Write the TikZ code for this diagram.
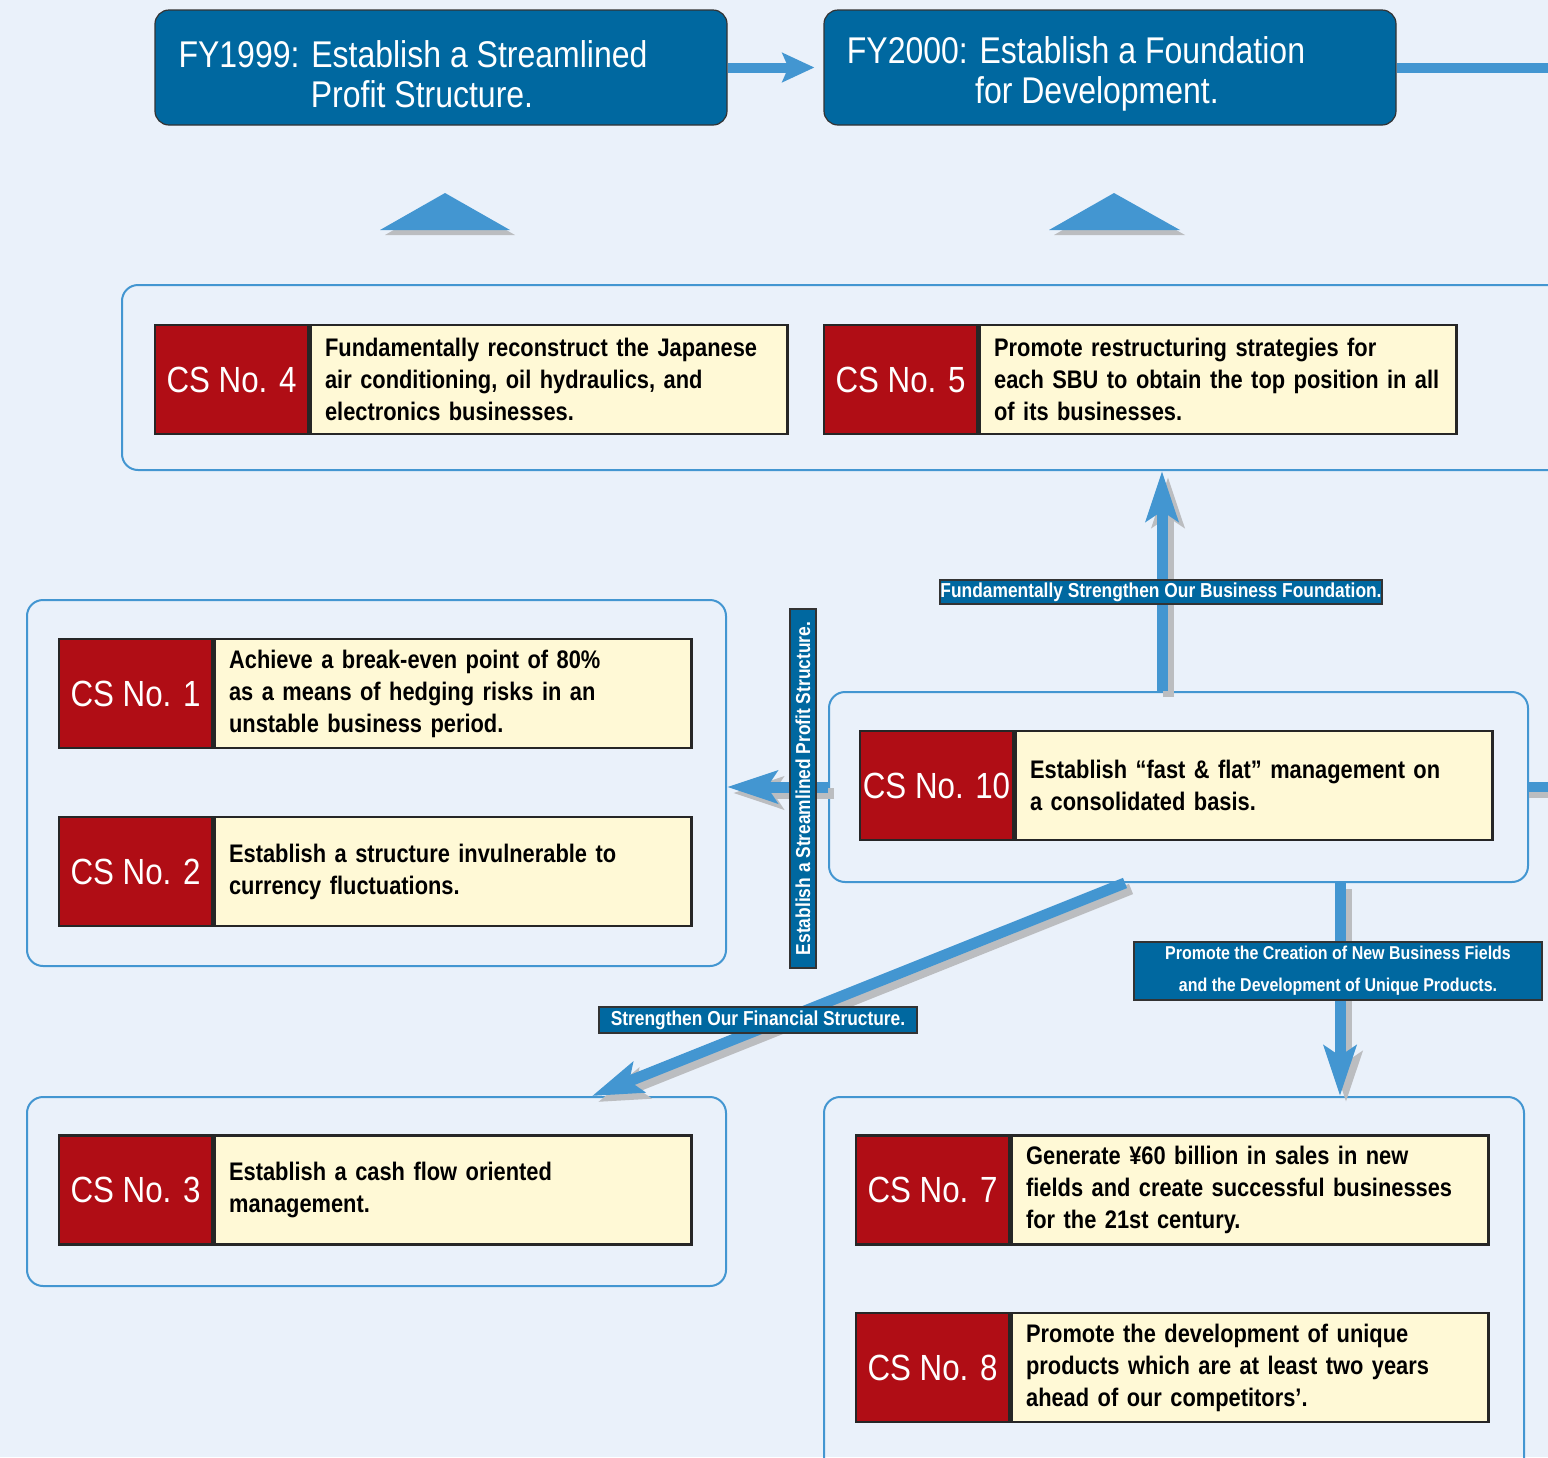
\documentclass[tikz,border=0pt]{standalone}
\usepackage{fontspec}
\setmainfont[FakeStretch=0.86]{Liberation Sans}
\usetikzlibrary{positioning,arrows.meta,calc}

\definecolor{bgblue}{HTML}{EAF1FA}
\definecolor{hdrblue}{HTML}{0068A0}
\definecolor{arrblue}{HTML}{4396D1}
\definecolor{csred}{HTML}{B00D15}
\definecolor{csyellow}{HTML}{FFF9D6}
\definecolor{shadowgray}{HTML}{BBBDC0}

\tikzset{
  hdr/.style={draw=black!80, fill=hdrblue, rounded corners=7pt, line width=0.6pt,
    minimum width=286pt, minimum height=57.5pt, inner sep=0pt},
  hdrtext/.style={text=white, align=center, font=\fontsize{18.6}{20}\selectfont},
  grp/.style={draw=arrblue, rounded corners=8pt, line width=1pt, inner sep=0pt},
  csno/.style={draw=black!85, fill=csred, text=white, line width=1.3pt,
    minimum width=76.5pt, minimum height=54.5pt, inner sep=0pt,
    font=\fontsize{18.2}{20}\selectfont},
  cstext/.style={draw=black!85, fill=csyellow, line width=1.3pt, align=left,
    text width=224pt, inner xsep=7.25pt, inner ysep=0pt, minimum height=54.5pt,
    font=\bfseries\fontsize{12.7}{16}\selectfont},
  lbl/.style={draw=black!80, fill=hdrblue, text=white, line width=0.6pt, inner sep=0pt,
    align=center, font=\bfseries\fontsize{10.1}{16}\selectfont},
  flow/.style={arrblue, line width=5.5pt, -{Stealth[length=25pt,width=16pt,inset=5pt]}},
  flowshadow/.style={flow, shadowgray, transform canvas={shift={(3pt,-3pt)}}},
}

\begin{document}
\begin{tikzpicture}[x=0.5pt, y=-0.5pt]
  \useasboundingbox (0,0) rectangle (1548,1457);
  \clip (0,0) rectangle (1548,1457);
  \fill[bgblue] (0,0) rectangle (1548,1457);

  % Headers
  \node[hdr] (hdr1) at (441,67.5) {};
  \node[hdrtext] (hdr1t) at (413,74) {FY1999: Establish a Streamlined\\\hspace*{9pt}Profit Structure.};
  \node[hdr] (hdr2) at (1110,67.5) {};
  \node[hdrtext] (hdr2t) at (1076,74) {FY2000: Establish a Foundation\\\hspace*{21pt}for Development.};
  \coordinate (hdrend) at (1560,67.5);
  \draw[arrblue, line width=5pt, -{Stealth[length=16pt,width=14.5pt,inset=3pt]}, shorten >=4.5pt] (hdr1.east) -- (hdr2.west);
  \draw[arrblue, line width=5pt] (hdr2.east) -- (hdrend);

  % Triangles
  \fill[shadowgray] (385,235) -- (515,235) -- (450,198) -- cycle;
  \fill[arrblue] (380,230) -- (510,230) -- (445,193) -- cycle;
  \fill[shadowgray] (1054,235) -- (1185,235) -- (1119,198) -- cycle;
  \fill[arrblue] (1049,230) -- (1180,230) -- (1114,193) -- cycle;

  % Group boxes
  \node[grp, minimum width=724pt, minimum height=92.5pt] (g45) at (846,377.5) {};
  \node[grp, minimum width=349.5pt, minimum height=183pt] (g12) at (376.5,783) {};
  \node[grp, minimum width=349.5pt, minimum height=95pt] (g10) at (1178.5,787) {};
  \node[grp, minimum width=349.5pt, minimum height=94.5pt] (g3) at (376.5,1191.5) {};
  \node[grp, minimum width=350pt, minimum height=191.5pt] (g78) at (1174,1288.5) {};

  % Flows out of CS No. 10
  \coordinate (xup) at (1162,0);
  \coordinate (xdown) at (1340,0);
  \coordinate (dgfrom) at (1125,0);
  \coordinate (dgto) at (592,0);
  \draw[flowshadow] (xup |- g10.north) -- (xup |- g45.south);
  \draw[flow] (xup |- g10.north) -- (xup |- g45.south);
  \draw[flowshadow] (g10.west) -- (g10.west -| g12.east);
  \draw[flow] (g10.west) -- (g10.west -| g12.east);
  \draw[flowshadow] (dgfrom |- g10.south) -- (dgto |- g3.north);
  \draw[flow] (dgfrom |- g10.south) -- (dgto |- g3.north);
  \draw[flowshadow] (xdown |- g10.south) -- (xdown |- g78.north);
  \draw[flow] (xdown |- g10.south) -- (xdown |- g78.north);
  \draw[shadowgray, line width=5pt, transform canvas={shift={(0pt,-3pt)}}] (g10.east) -- (g10.east -| hdrend);
  \draw[arrblue, line width=5pt] (g10.east) -- (g10.east -| hdrend);

  % Flow labels
  \node[lbl, minimum width=221pt, minimum height=12pt] (lbase) at (1161,592)
    {Fundamentally Strengthen Our Business Foundation.};
  \node[lbl, rotate=90, minimum width=179.5pt, minimum height=13pt] (lprofit) at (803,788.5)
    {Establish a Streamlined Profit Structure.};
  \node[lbl, minimum width=159pt, minimum height=13pt] (lfin) at (758,1020)
    {Strengthen Our Financial Structure.};
  \node[lbl, minimum width=204pt, minimum height=29pt, font=\bfseries\fontsize{9.3}{16}\selectfont] (lnew) at (1338,971)
    {Promote the Creation of New Business Fields\\and the Development of Unique Products.};

  % CS rows
  \node[csno] (cs4) at (231.5,379.5) {CS No. 4};
  \node[cstext, right=0pt of cs4] (cs4t) {Fundamentally reconstruct the Japanese\\air conditioning, oil hydraulics, and\\electronics businesses.};
  \node[csno] (cs5) at (900.5,379.5) {CS No. 5};
  \node[cstext, right=0pt of cs5] (cs5t) {Promote restructuring strategies for\\each SBU to obtain the top position in all\\of its businesses.};

  \node[csno] (cs1) at (135.5,693.5) {CS No. 1};
  \node[cstext, right=0pt of cs1] (cs1t) {Achieve a break-even point of 80\%\\as a means of hedging risks in an\\unstable business period.};
  \node[csno] (cs2) at (135.5,871.5) {CS No. 2};
  \node[cstext, right=0pt of cs2] (cs2t) {Establish a structure invulnerable to\\currency fluctuations.};

  \node[csno] (cs10) at (936.5,785.5) {CS No. 10};
  \node[cstext, right=0pt of cs10] (cs10t) {Establish “fast \& flat” management on\\a consolidated basis.};

  \node[csno] (cs3) at (135.5,1190) {CS No. 3};
  \node[cstext, right=0pt of cs3] (cs3t) {Establish a cash flow oriented\\management.};

  \node[csno] (cs7) at (932.5,1190) {CS No. 7};
  \node[cstext, right=0pt of cs7] (cs7t) {Generate ¥60 billion in sales in new\\fields and create successful businesses\\for the 21st century.};
  \node[csno] (cs8) at (932.5,1367.5) {CS No. 8};
  \node[cstext, right=0pt of cs8] (cs8t) {Promote the development of unique\\products which are at least two years\\ahead of our competitors’.};
\end{tikzpicture}
\end{document}
